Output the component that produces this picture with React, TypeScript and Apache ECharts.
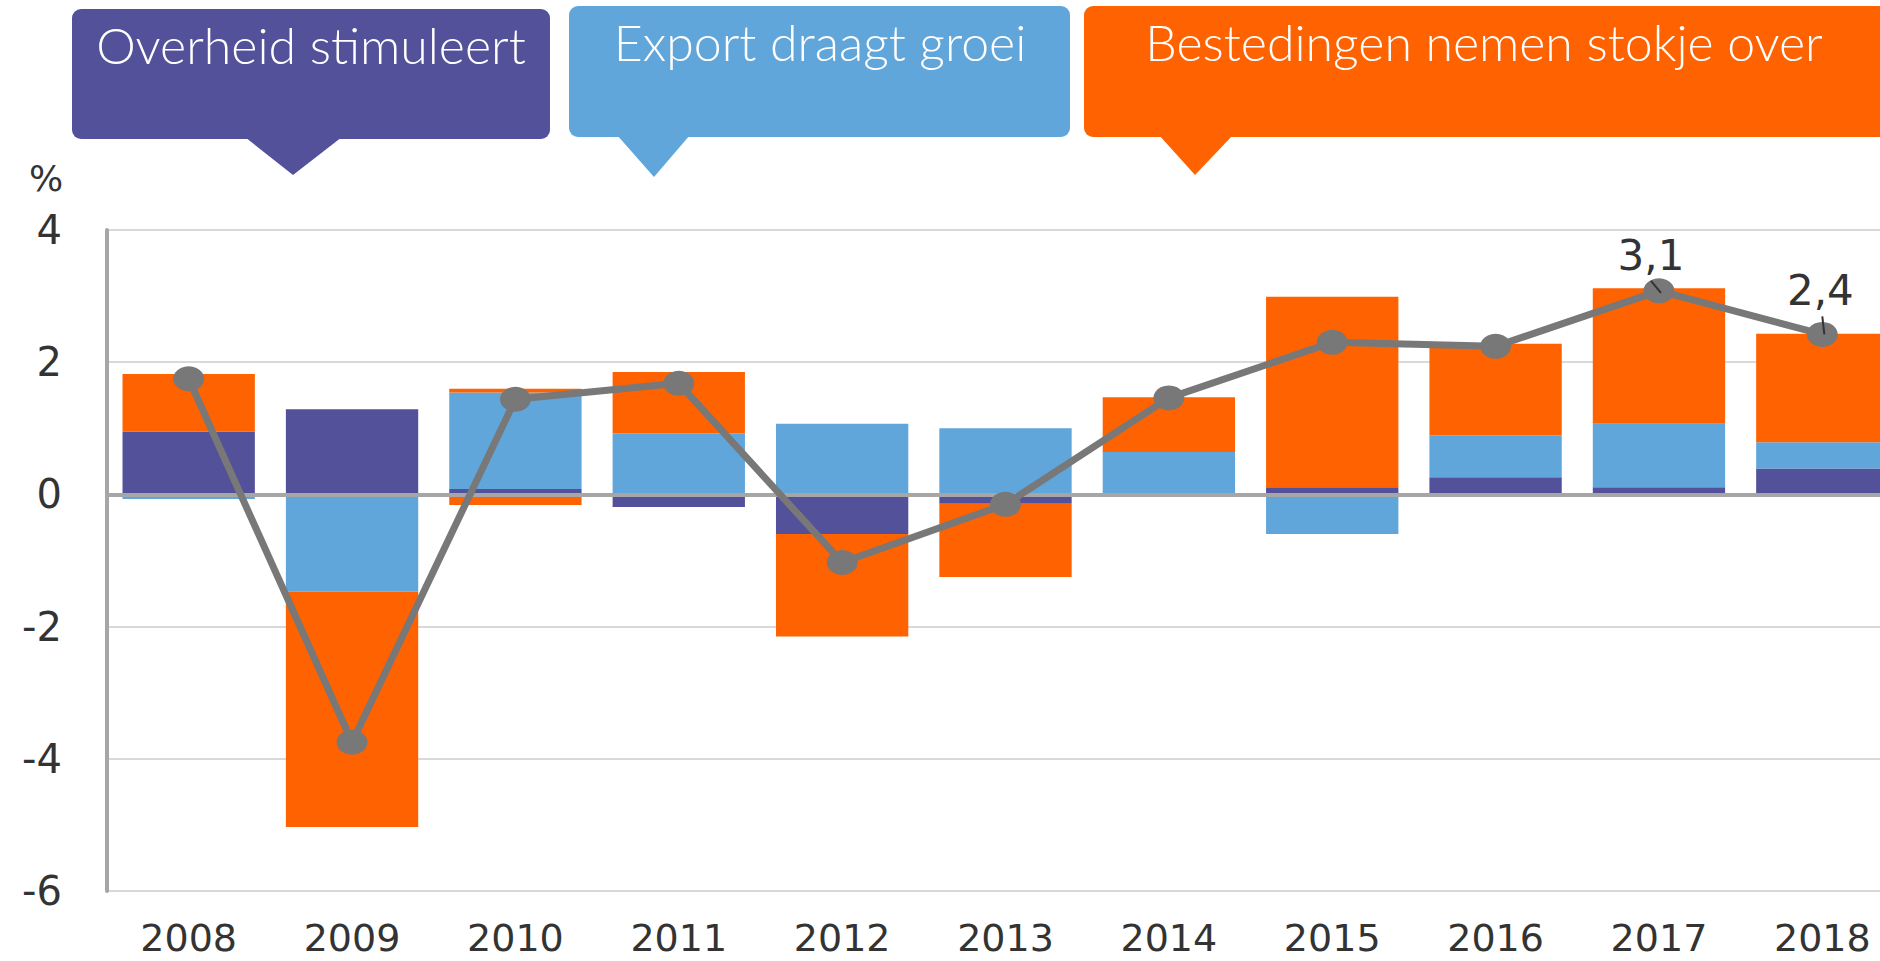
import React, { useEffect, useRef } from "react";
import * as echarts from "echarts";

const years = ["2008", "2009", "2010", "2011", "2012", "2013", "2014", "2015", "2016", "2017", "2018"];
const overheid = [0.95, 1.29, 0.08, -0.19, -0.6, -0.14, 0, 0.11, 0.26, 0.11, 0.39];
const exportBijdrage = [-0.07, -1.47, 1.46, 0.92, 1.07, 1.0, 0.64, -0.6, 0.63, 0.96, 0.4];
const bestedingen = [0.87, -3.56, 0.06, 0.93, -1.55, -1.11, 0.83, 2.88, 1.39, 2.05, 1.64];
const bestedingenOverig = [0, 0, -0.16, 0, 0, 0, 0, 0, 0, 0, 0];
const bbpGroei = [1.75, -3.75, 1.44, 1.68, -1.03, -0.15, 1.46, 2.3, 2.24, 3.08, 2.42];
const labeledYears = ["2017", "2018"];
const yMin = -6;
const yMax = 4;
const yStep = 2;

const PURPLE = "#535199";
const BLUE = "#60A6DA";
const ORANGE = "#FF6200";
const GRAY = "#787878";

const labelStyle: Record<string, any> = {
  "2017": { offset: [-8, 4], leader: [-8, -10, 2, 2] },
  "2018": { offset: [-2, -4], leader: [0, -18, 2, 0] },
};

function bubble(x: number, y: number, w: number, h: number, tail: number[], color: string, text: string, tx: number, ty: number) {
  return [
    { type: "rect", shape: { x, y, width: w, height: h, r: 9 }, style: { fill: color }, silent: true },
    {
      type: "polygon",
      shape: { points: [[tail[0], y + h - 2], [tail[1], y + h - 2], [tail[2], tail[3]]] },
      style: { fill: color },
      silent: true,
    },
    {
      type: "text",
      x: tx,
      y: ty,
      style: {
        text,
        fill: "#ffffff",
        fontFamily: "Lato",
        fontWeight: 300,
        fontSize: 50,
        align: "center",
        verticalAlign: "middle",
      },
      silent: true,
    },
  ];
}

export default function App() {
  const ref = useRef<HTMLDivElement>(null);
  useEffect(() => {
    if (!ref.current) return;
    const chart = echarts.init(ref.current, null, { renderer: "svg" });
    const lineData = bbpGroei.map((v, i) =>
      labeledYears.includes(years[i])
        ? {
            value: v,
            label: {
              show: true,
              position: "top",
              distance: 6,
              offset: labelStyle[years[i]].offset,
              formatter: (p: any) => Number(p.value).toFixed(1).replace(".", ","),
              fontFamily: "DejaVu Sans",
              fontSize: 42,
              color: "#333333",
            },
          }
        : v
    );
    const leaderData = years
      .map((y, i) => (labeledYears.includes(y) ? [i, bbpGroei[i]] : null))
      .filter((d) => d !== null);

    const option: any = {
      animation: false,
      backgroundColor: "#ffffff",
      grid: { left: 107, right: 0, top: 230, bottom: 70, containLabel: false },
      xAxis: {
        type: "category",
        data: years,
        axisLine: { show: false },
        axisTick: { show: false },
        axisLabel: {
          fontFamily: "DejaVu Sans",
          fontSize: 38,
          color: "#333333",
          margin: 28,
        },
        splitLine: { show: false },
      },
      yAxis: {
        type: "value",
        min: yMin,
        max: yMax,
        interval: yStep,
        axisLine: { show: true, lineStyle: { color: "#A6A6A6", width: 4 } },
        axisTick: { show: false },
        axisLabel: {
          fontFamily: "DejaVu Sans",
          fontSize: 40,
          color: "#333333",
          margin: 45,
        },
        splitLine: { show: true, lineStyle: { color: "#D9D9D9", width: 2 } },
      },
      graphic: [
        ...bubble(72, 9, 478, 130, [245, 342, 293, 175], PURPLE, "Overheid stimuleert", 311, 45),
        ...bubble(569, 6, 501, 131, [617, 690, 654, 177], BLUE, "Export draagt groei", 820, 42),
        ...bubble(1084, 6, 820, 131, [1159, 1233, 1195, 175], ORANGE, "Bestedingen nemen stokje over", 1484, 42),
        {
          type: "text",
          x: 46,
          y: 178,
          style: {
            text: "%",
            fill: "#333333",
            fontFamily: "DejaVu Sans",
            fontSize: 36,
            align: "center",
            verticalAlign: "middle",
          },
          silent: true,
        },
      ],
      series: [
        { name: "Overheid", type: "bar", stack: "bbp", data: overheid, itemStyle: { color: PURPLE }, barCategoryGap: "19%" },
        { name: "Export", type: "bar", stack: "bbp", data: exportBijdrage, itemStyle: { color: BLUE } },
        { name: "Bestedingen", type: "bar", stack: "bbp", data: bestedingen, itemStyle: { color: ORANGE } },
        {
          name: "Bestedingen overig",
          type: "bar",
          stack: "bbp",
          data: bestedingenOverig,
          itemStyle: { color: ORANGE },
          markLine: {
            silent: true,
            symbol: "none",
            label: { show: false },
            lineStyle: { color: "#A6A6A6", width: 4, type: "solid" },
            data: [{ yAxis: 0 }],
            z: 3,
          },
        },
        {
          name: "BBP-groei",
          type: "line",
          data: lineData,
          z: 5,
          symbol: "circle",
          symbolSize: [31, 25],
          lineStyle: { color: GRAY, width: 7 },
          itemStyle: { color: GRAY },
        },
        {
          name: "leader",
          type: "custom",
          z: 6,
          silent: true,
          data: leaderData,
          encode: { x: 0, y: 1 },
          renderItem: (params: any, api: any) => {
            const idx = api.value(0);
            const p = api.coord([idx, api.value(1)]);
            const l = labelStyle[years[idx]].leader;
            return {
              type: "line",
              shape: { x1: p[0] + l[0], y1: p[1] + l[1], x2: p[0] + l[2], y2: p[1] + l[3] },
              style: { stroke: "#333333", lineWidth: 2 },
            };
          },
        },
      ],
    };
    chart.setOption(option);
    return () => chart.dispose();
  }, []);
  return (
    <div
      ref={ref}
      style={{ position: "fixed", left: 0, top: 0, width: 1904, height: 961, background: "#fff" }}
    />
  );
}
